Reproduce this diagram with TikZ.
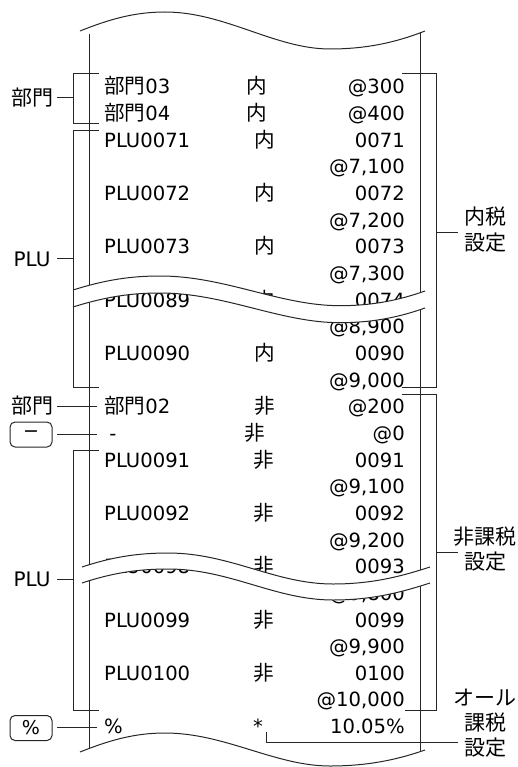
\documentclass[tikz,border=0pt]{standalone}
\usepackage{fontspec}
\setmainfont{DejaVu Sans}
\newfontfamily\jp{Noto Sans CJK JP}[Scale=1.05]
\begin{document}
\begin{tikzpicture}[x=1pt,y=-1pt,
  ln/.style={line width=1pt, draw=black!85},
  cell/.style={inner sep=0pt, font=\fontsize{19.6pt}{23pt}\selectfont},
  lc/.style={cell, anchor=base west},
  mc/.style={cell, anchor=base},
  rc/.style={cell, anchor=base east},
  lbl/.style={inner sep=0pt, anchor=base, font=\fontsize{20pt}{24pt}\selectfont},
  keybox/.style={draw=black!85, line width=1pt, rounded corners=5pt, minimum width=42pt, minimum height=25pt, inner sep=0pt, font=\fontsize{19pt}{22pt}\selectfont},
]
\useasboundingbox (0,0) rectangle (518,767);
\def\wvUA{(73,290) .. controls (105,280) and (130,276) .. (160,276) .. controls (225,276) and (280,305.7) .. (340,305.7) .. controls (378,305.7) and (405,298) .. (425,291)}
\def\wvLA{(73,307) .. controls (105,297) and (130,293) .. (160,293) .. controls (225,293) and (280,322.7) .. (340,322.7) .. controls (378,322.7) and (405,315) .. (425,308)}
\def\wvUB{(82,567) .. controls (112,557) and (138,553) .. (168,553) .. controls (230,553) and (275,584) .. (333,584) .. controls (375,584) and (405,575) .. (430,567)}
\def\wvLB{(82,583) .. controls (112,573) and (138,569) .. (168,569) .. controls (230,569) and (275,600) .. (333,600) .. controls (375,600) and (405,591) .. (430,583)}

% paper
\draw[ln] (89,34) -- (89,748);
\draw[ln] (420,32) -- (420,752);
\draw[ln] (80,31) .. controls (110,19) and (135,12) .. (165,12) .. controls (225,12) and (275,49) .. (330,49) .. controls (372,49) and (402,40) .. (425,31);
\draw[ln] (80,752) .. controls (110,740) and (135,733) .. (165,733) .. controls (225,733) and (275,766) .. (330,766) .. controls (372,766) and (402,758) .. (425,750);

% rows
\node[lc] (a0) at (104,94) {{\jp 部門}03};
\node[mc] (b0) at (257,94) {{\jp 内}};
\node[rc] (c0) at (405,94) {@300};
\node[lc] (a1) at (104,120.65) {{\jp 部門}04};
\node[mc] (b1) at (257,120.65) {{\jp 内}};
\node[rc] (c1) at (405,120.65) {@400};
\node[lc] (a2) at (104,147.3) {PLU0071};
\node[mc] (b2) at (265,147.3) {{\jp 内}};
\node[rc] (c2) at (405,147.3) {0071};
\node[rc] (c3) at (405,173.95) {@7,100};
\node[lc] (a4) at (104,200.6) {PLU0072};
\node[mc] (b4) at (265,200.6) {{\jp 内}};
\node[rc] (c4) at (405,200.6) {0072};
\node[rc] (c5) at (405,227.25) {@7,200};
\node[lc] (a6) at (104,253.9) {PLU0073};
\node[mc] (b6) at (265,253.9) {{\jp 内}};
\node[rc] (c6) at (405,253.9) {0073};
\node[rc] (c7) at (405,280.55) {@7,300};
\node[rc] (c9) at (405,333.85) {@8,900};
\node[lc] (a10) at (104,360.5) {PLU0090};
\node[mc] (b10) at (265,360.5) {{\jp 内}};
\node[rc] (c10) at (405,360.5) {0090};
\node[rc] (c11) at (405,387.15) {@9,000};
\node[lc] (a12) at (104,413.8) {{\jp 部門}02};
\node[mc] (b12) at (265,413.8) {{\jp 非}};
\node[rc] (c12) at (405,413.8) {@200};
\node[mc] (a13) at (113,440.45) {-};
\node[mc] (b13) at (255,440.45) {{\jp 非}};
\node[rc] (c13) at (405,440.45) {@0};
\node[lc] (a14) at (104,467.1) {PLU0091};
\node[mc] (b14) at (264,467.1) {{\jp 非}};
\node[rc] (c14) at (405,467.1) {0091};
\node[rc] (c15) at (405,493.75) {@9,100};
\node[lc] (a16) at (104,520.4) {PLU0092};
\node[mc] (b16) at (264,520.4) {{\jp 非}};
\node[rc] (c16) at (405,520.4) {0092};
\node[rc] (c17) at (405,547.05) {@9,200};
\node[lc] (a20) at (104,627) {PLU0099};
\node[mc] (b20) at (264,627) {{\jp 非}};
\node[rc] (c20) at (405,627) {0099};
\node[rc] (c21) at (405,653.65) {@9,900};
\node[lc] (a22) at (104,680.3) {PLU0100};
\node[mc] (b22) at (264,680.3) {{\jp 非}};
\node[rc] (c22) at (405,680.3) {0100};
\node[rc] (c23) at (405,706.95) {@10,000};
\node[lc] (a24) at (104,733.6) {\%};
\node[mc] (b24) at (258,733.6) {*};
\node[rc] (c24) at (405,733.6) {10.05\%};

% cut 1
\begin{scope}
\clip (73,240) -- \wvUA -- (440,291) -- (440,240) -- cycle;
\node[lc] (a8u) at (104,307.2) {PLU0074};
\node[mc] (b8u) at (265,307.2) {{\jp 内}};
\node[rc] (c8u) at (405,307.2) {0074};
\end{scope}
\begin{scope}
\clip (73,350) -- \wvLA -- (440,308) -- (440,350) -- cycle;
\node[lc] (a8l) at (104,307.2) {PLU0089};
\node[mc] (b8l) at (265,307.2) {{\jp 内}};
\node[rc] (c8l) at (405,307.2) {0089};
\end{scope}
\fill[white] \wvUA -- (425,308) .. controls (405,315) and (378,322.7) .. (340,322.7) .. controls (280,322.7) and (225,293) .. (160,293) .. controls (130,293) and (105,297) .. (73,307) -- cycle;
\draw[ln] \wvUA;
\draw[ln] \wvLA;

% cut 2
\begin{scope}
\clip (82,520) -- \wvUB -- (440,567) -- (440,520) -- cycle;
\node[lc] (a18u) at (104,573.7) {PLU0093};
\node[mc] (b18u) at (264,573.7) {{\jp 非}};
\node[rc] (c18u) at (405,573.7) {0093};
\end{scope}
\begin{scope}
\clip (82,620) -- \wvLB -- (440,583) -- (440,620) -- cycle;
\node[lc] (a18l) at (104,573.7) {PLU0098};
\node[mc] (b18l) at (264,573.7) {{\jp 非}};
\node[rc] (c18l) at (405,573.7) {0098};
\node[rc] (c19l) at (405,600.35) {@9,800};
\end{scope}
\fill[white] \wvUB -- (430,583) .. controls (405,591) and (375,600) .. (333,600) .. controls (275,600) and (230,569) .. (168,569) .. controls (138,569) and (112,573) .. (82,583) -- cycle;
\draw[ln] \wvUB;
\draw[ln] \wvLB;

% left labels
\node[lbl] (lbumon1) at (32,105.5) {{\jp 部門}};
\node[lbl] (lplu1) at (32,266) {PLU};
\node[lbl] (lbumon2) at (32,413.5) {{\jp 部門}};
\node[keybox] (kminus) at (31,434.5) {−};
\node[lbl] (lplu2) at (32,586.5) {PLU};
\node[keybox] (kpct) at (31,728) {\%};

% right labels
\node[lbl] (rnai1) at (485.5,224) {{\jp 内税}};
\node[lbl] (rnai2) at (485.5,250.5) {{\jp 設定}};
\node[lbl] (rhi1) at (485,544) {{\jp 非課税}};
\node[lbl] (rhi2) at (485.5,569) {{\jp 設定}};
\node[lbl] (rall1) at (484.5,705.5) {{\jp オール}};
\node[lbl] (rall2) at (485.5,730.5) {{\jp 課税}};
\node[lbl] (rall3) at (485.5,755.5) {{\jp 設定}};

% brackets
\draw[ln] (99,74) -- (73,74) -- (73,124) -- (99,124);
\draw[ln] (57,98) -- (73,98);
\draw[ln] (99,131) -- (73,131) -- (73,387) -- (99,387);
\draw[ln] (57,258) -- (73,258);
\draw[ln] (402,74) -- (436,74) -- (436,387) -- (402,387);
\draw[ln] (436,232) -- (458,232);
\draw[ln] (57,406) -- (97,406);
\draw[ln] (57,434) -- (97,434);
\draw[ln] (99,450) -- (73,450) -- (73,710) -- (99,710);
\draw[ln] (57,579) -- (73,579);
\draw[ln] (402,394) -- (436,394) -- (436,710) -- (405,710);
\draw[ln] (436,552) -- (458,552);
\draw[ln] (57,727) -- (97,727);
\draw[ln] (266,732) -- (266,742) -- (458,742);
\end{tikzpicture}
\end{document}
